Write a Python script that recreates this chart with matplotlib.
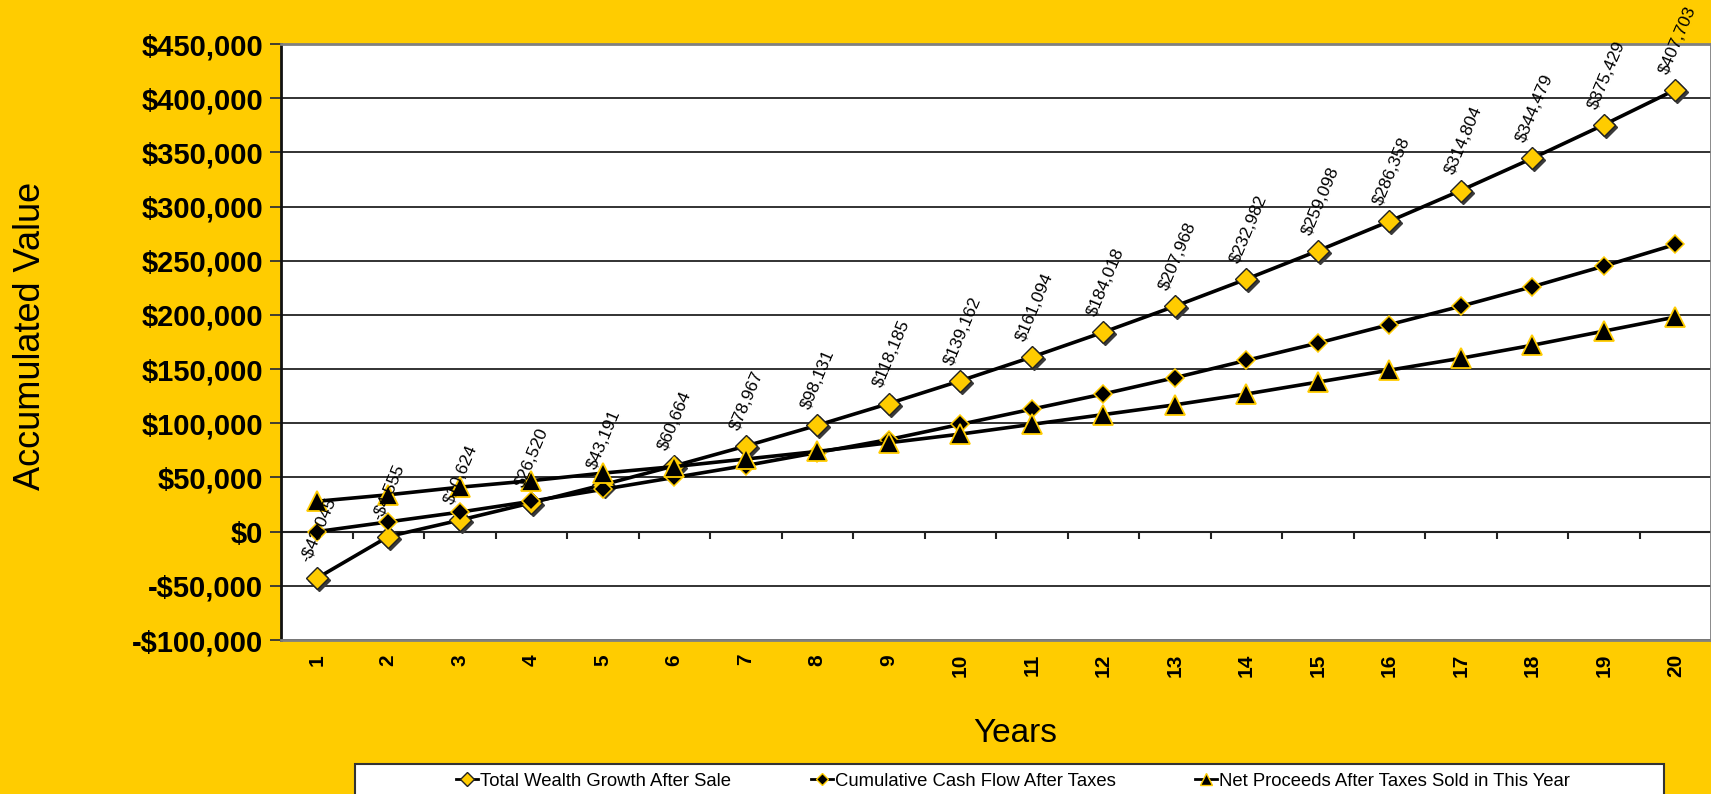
import matplotlib
matplotlib.use("Agg")
import matplotlib.pyplot as plt
from matplotlib.patches import Rectangle
from matplotlib.lines import Line2D
import matplotlib.transforms as mtransforms
from matplotlib.ticker import FuncFormatter

years = list(range(1, 21))
total_wealth = [-43045, -4555, 10624, 26520, 43191, 60664, 78967, 98131, 118185, 139162,
                161094, 184018, 207968, 232982, 259098, 286358, 314804, 344479, 375429, 407703]
cash_flow = [0, 9000, 18000, 28000, 39000, 50000, 61000, 73000, 85000, 99000,
             113000, 127000, 142000, 158000, 174000, 191000, 208000, 226000, 245000, 265000]
net_proceeds = [28000, 34000, 41000, 47000, 54000, 60000, 67000, 74000, 82000, 90000,
                99000, 108000, 117000, 127000, 138000, 149000, 160000, 172000, 185000, 198000]
series_names = ["Total Wealth Growth After Sale",
                "Cumulative Cash Flow After Taxes",
                "Net Proceeds After Taxes Sold in This Year"]

gold = "#FFCC00"
plt.rcParams['font.family'] = ["Liberation Sans", "DejaVu Sans"]

fig = plt.figure(figsize=(17.11, 7.94), dpi=100, facecolor=gold)
ax = fig.add_axes([281/1711, 1 - 640/794, 1 - 281/1711, (640 - 44)/794])
ax.set_facecolor("white")

ax.set_xlim(0.5, 20.5)
ax.set_ylim(-100000, 450000)
ax.set_yticks(range(-100000, 450001, 50000))
ax.yaxis.grid(True, color="#222222", lw=1.3)
ax.set_axisbelow(True)

def money(v, pos=None):
    return f"-${abs(v):,.0f}" if v < 0 else f"${v:,.0f}"

ax.yaxis.set_major_formatter(FuncFormatter(money))
ax.tick_params(axis="y", labelsize=21, length=8, width=1.3, pad=5, color="#333333")
for t in ax.get_yticklabels():
    t.set_fontweight("bold")

ax.set_xticks(years)
ax.set_xticklabels([str(y) for y in years], rotation=90, fontsize=15, fontweight="bold")
ax.tick_params(axis="x", length=0, pad=10)

# category tick marks sit on the zero line, between categories
ax.vlines([y + 0.5 for y in years[:-1]] + [0.5], -6500, 0, color="#222222", lw=1.5, zorder=2)
ax.axhline(0, color="#222222", lw=1.5, zorder=2)

for s in ["top", "right", "bottom"]:
    ax.spines[s].set_color("#808080")
    ax.spines[s].set_linewidth(2)
ax.spines["left"].set_color("#111111")
ax.spines["left"].set_linewidth(2)

shadow = mtransforms.offset_copy(ax.transData, fig=fig, x=2, y=-2, units="dots")
ax.plot(years, total_wealth, ls="none", marker="D", ms=11.5, color="#3a3a3a",
        transform=shadow, zorder=3)
ax.plot(years, total_wealth, color="black", lw=2.6, marker="D", ms=11.5,
        mfc=gold, mec="#222222", mew=1.0, zorder=4)
ax.plot(years, cash_flow, color="black", lw=2.6, marker="D", ms=9,
        mfc="black", mec=gold, mew=1.1, zorder=5)
ax.plot(years, net_proceeds, color="black", lw=2.6, marker="^", ms=14,
        mfc="black", mec=gold, mew=1.3, zorder=6)

for x, v in zip(years, total_wealth):
    ax.annotate(money(v), (x, v), xytext=(-3, 10), textcoords="offset points",
                rotation=67, rotation_mode="anchor", ha="left", va="bottom",
                fontsize=12.5, zorder=7, annotation_clip=False)

fig.text(31/1711, 1 - 336/794, "Accumulated Value", rotation=90, fontsize=26,
         ha="center", va="center")
fig.text(1015/1711, 1 - 733/794, "Years", fontsize=24, ha="center", va="center")

# legend box runs off the bottom of the image
fig.patches.append(Rectangle((355/1711, -0.05), (1664 - 355)/1711, 0.05 + (794 - 764)/794,
                             transform=fig.transFigure, facecolor="white",
                             edgecolor="#333333", lw=1.5, zorder=0))
handles = [
    Line2D([], [], color="black", lw=2, marker="D", ms=7, mfc=gold, mec="#222222"),
    Line2D([], [], color="black", lw=2, marker="D", ms=6, mfc="black", mec=gold),
    Line2D([], [], color="black", lw=2, marker="^", ms=9, mfc="black", mec=gold),
]
fig.legend(handles, series_names, loc="center", bbox_to_anchor=(1013/1711, 1 - 781/794),
           ncol=3, frameon=False, handlelength=1.2, handletextpad=0.1, columnspacing=4.3,
           borderpad=0, prop={"size": 13.3})

fig.savefig("out.png", dpi=100, facecolor=gold)
